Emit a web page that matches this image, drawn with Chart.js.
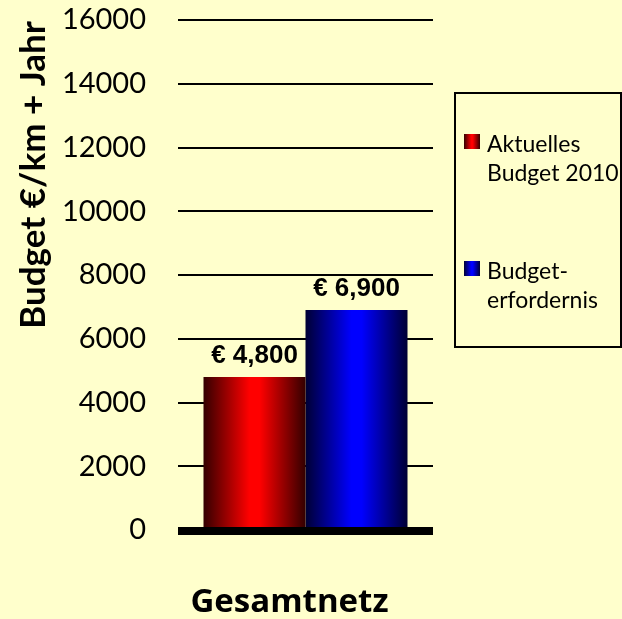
<!DOCTYPE html>
<html>
<head>
<meta charset="utf-8">
<script src="https://cdn.jsdelivr.net/npm/chart.js@4"></script>
<style>
  body { margin: 0; background: #FFFFCC; }
  canvas { display: block; }
</style>
</head>
<body>
<canvas id="chart" width="622" height="619"></canvas>
<script>
// Data
const categories = ["Gesamtnetz"];
const seriesNames = [["Aktuelles", "Budget 2010"], ["Budget-", "erfordernis"]];
const budget2010 = [4800];
const budgetNeeded = [6900];
const yMin = 0, yMax = 16000, yStep = 2000;

// bright centre colour, dark edge colour per series
const seriesColors = [
    { bright: "#ff0000", dark: "#330000" },
    { bright: "#0000ff", dark: "#000033" }
];

const makeGradient = (ctx, left, right, c) => {
    let g = ctx.createLinearGradient(left, 0, right, 0);
    g.addColorStop(0, c.dark);
    g.addColorStop(0.45, c.bright);
    g.addColorStop(0.55, c.bright);
    g.addColorStop(1, c.dark);
    return g;
};

const bgPlugin = {
    id: "bg",
    beforeDraw: (chart) => {
        let ctx = chart.ctx;
        ctx.save();
        ctx.fillStyle = "#FFFFCC";
        ctx.fillRect(0, 0, chart.width, chart.height);
        ctx.restore();
    }
};

// horizontal shading of bars
const shadePlugin = {
    id: "shade",
    beforeDatasetsDraw: (chart) => {
        chart.data.datasets.forEach((ds, i) => {
            chart.getDatasetMeta(i).data.forEach((bar) => {
                let left = bar.x - bar.width / 2;
                bar.options.backgroundColor = makeGradient(chart.ctx, left, left + bar.width, seriesColors[i]);
            });
        });
    }
};

const labelPlugin = {
    id: "valueLabels",
    afterDatasetsDraw: (chart) => {
        let ctx = chart.ctx, area = chart.chartArea;
        ctx.save();
        // thick zero line
        let y0 = chart.scales.y.getPixelForValue(0);
        ctx.fillStyle = "#000";
        ctx.fillRect(area.left, y0 - 3, area.right - area.left, 8);
        ctx.font = "bold 26px 'Liberation Sans', Arial";
        ctx.textAlign = "center";
        ctx.textBaseline = "middle";
        chart.data.datasets.forEach((ds, i) => {
            chart.getDatasetMeta(i).data.forEach((bar, j) => {
                ctx.fillText("€ " + ds.data[j].toLocaleString("en-US"), bar.x, bar.y - 21);
            });
        });
        // category label under the axis
        let xs = chart.scales.x;
        ctx.font = "bold 33px 'Open Sans'";
        ctx.textBaseline = "alphabetic";
        chart.data.labels.forEach((lab, j) => {
            ctx.fillText(lab, xs.getPixelForValue(j) - 16, 612);
        });
        // y title
        ctx.translate(45, 175);
        ctx.rotate(-Math.PI / 2);
        ctx.font = "bold 35px Lato";
        ctx.fillText("Budget €/km + Jahr", 0, 0);
        ctx.restore();
    }
};

const legendPlugin = {
    id: "boxLegend",
    afterDraw: (chart) => {
        let ctx = chart.ctx;
        ctx.save();
        ctx.strokeStyle = "#000";
        ctx.lineWidth = 2;
        ctx.strokeRect(455, 93, 166, 254);
        ctx.font = "23px Lato";
        ctx.fillStyle = "#000";
        ctx.textBaseline = "alphabetic";
        let rows = [134, 261];
        seriesNames.forEach((lines, i) => {
            let top = rows[i];
            ctx.fillStyle = makeGradient(ctx, 464, 480, seriesColors[i]);
            ctx.fillRect(464, top, 16, 15);
            ctx.fillStyle = "#000";
            lines.forEach((t, k) => ctx.fillText(t, 487, top + 18 + k * 29));
        });
        ctx.restore();
    }
};

new Chart(document.getElementById("chart"), {
    type: "bar",
    data: {
        labels: categories,
        datasets: [
            { label: seriesNames[0].join(" "), data: budget2010, backgroundColor: seriesColors[0].bright },
            { label: seriesNames[1].join(""), data: budgetNeeded, backgroundColor: seriesColors[1].bright }
        ]
    },
    options: {
        responsive: false,
        animation: false,
        layout: { padding: { left: 0, top: 20, right: 189, bottom: 0 } },
        datasets: { bar: { barPercentage: 1, categoryPercentage: 0.8 } },
        plugins: { legend: { display: false }, tooltip: { enabled: false } },
        scales: {
            x: {
                grid: { display: false },
                border: { display: false },
                ticks: { display: false },
                afterFit: (scale) => { scale.height = 89; }
            },
            y: {
                min: yMin,
                max: yMax,
                grid: { color: "#000", lineWidth: 2, drawTicks: false },
                border: { display: false },
                ticks: {
                    stepSize: yStep,
                    color: "#000",
                    padding: 32,
                    font: { family: "Lato", size: 29 },
                    callback: (value) => String(value)
                },
                afterFit: (scale) => {
                    scale.width = 178;
                    scale.paddingTop = 0;
                    scale.paddingBottom = 0;
                }
            }
        }
    },
    plugins: [bgPlugin, shadePlugin, labelPlugin, legendPlugin]
});
</script>
</body>
</html>
